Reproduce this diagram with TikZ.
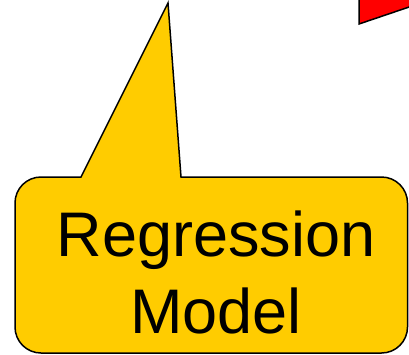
\documentclass[tikz,border=0pt]{standalone}
\usepackage{fontspec}
\setmainfont{Liberation Sans}
\definecolor{calloutyellow}{HTML}{FFCC00}

\begin{document}
\begin{tikzpicture}[x=1pt,y=-1pt,
  callout/.style={fill=calloutyellow,draw=black,line width=1.5pt,line join=miter},
  pointer/.style={fill=red,draw=black,line width=1.5pt},
  every node/.style={inner sep=0pt, outer sep=0pt}]
\useasboundingbox (0,0) rectangle (409,354);
\clip (0,0) rectangle (409,354);

\draw[pointer] (359,-5) -- (359,24) -- (420,3.3) -- (420,-5) -- cycle;

\draw[callout] (81,177) -- (168,3) -- (181,177)
  [rounded corners=26pt] -- (407.5,177) -- (407.5,353) -- (15,353) -- (15,177)
  [sharp corners] -- cycle;

\node[align=center,font=\fontsize{63}{77}\selectfont] (model) at (216,272.5) {Regression\\Model};
\end{tikzpicture}
\end{document}
